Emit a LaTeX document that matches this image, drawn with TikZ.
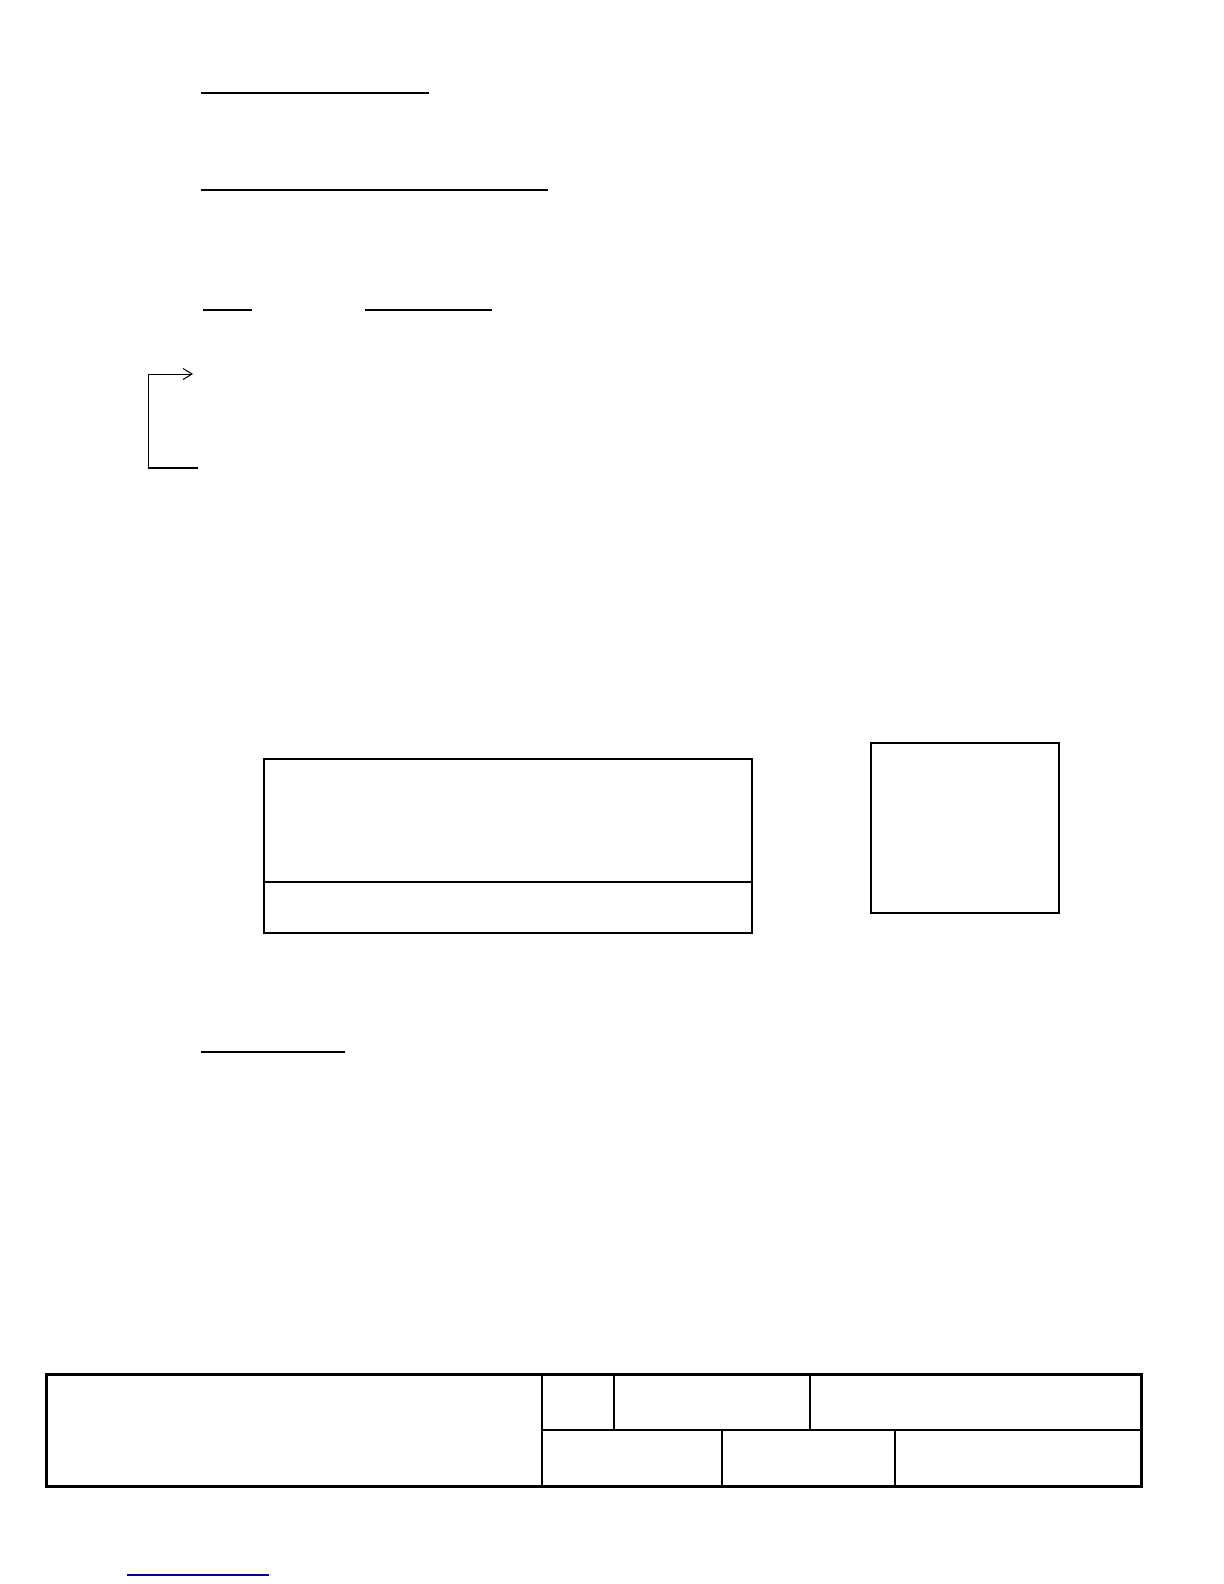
\documentclass[tikz,border=0pt]{standalone}
\usepackage{tikz}
\usetikzlibrary{arrows,arrows.meta}

\begin{document}
\begin{tikzpicture}[x=0.5bp, y=-0.5bp,
        rule/.style={black, line width=1bp},
        frame/.style={black, line width=1.3bp},
        cell/.style={black, line width=0.6bp}]
        \useasboundingbox (0,0) rectangle (1224,1584);
        
        \draw [rule] (201,93) -- (429,93);
        \draw [rule] (201,190) -- (548,190);
        \draw [rule] (203,310) -- (252,310);
        \draw [rule] (365,310) -- (492,310);
        
        \coordinate (loopStart) at (148,467);
        \coordinate (loopEnd) at (193,374);
        \draw [black, line width=0.5bp, -{Straight Barb[length=4.5bp,width=5.5bp]}] (loopStart) |- (loopEnd);
        \draw [rule] (148,468) -- (198,468);
        
        \draw [frame] (264,759) rectangle (752,933);
        \draw [frame] (264,882) -- (752,882);
        \draw [frame] (871,743) rectangle (1059,913);
        
        \draw [black, line width=0.75bp] (201,1052) -- (345,1052);
        
        \draw [black, line width=1.5bp] (46,1374) rectangle (1141,1486);
        \draw [black, line width=1bp] (542,1430) -- (1141,1430);
        \draw [cell] (542,1374) -- (542,1486);
        \draw [cell] (614,1374) -- (614,1430);
        \draw [cell] (810,1374) -- (810,1430);
        \draw [cell] (722,1430) -- (722,1486);
        \draw [line width=0.8bp] (895,1430) -- (895,1486);
        
        \draw [blue!60!black, line width=0.6bp] (127,1575) -- (269,1575);
        
        \end{tikzpicture}
\end{document}
